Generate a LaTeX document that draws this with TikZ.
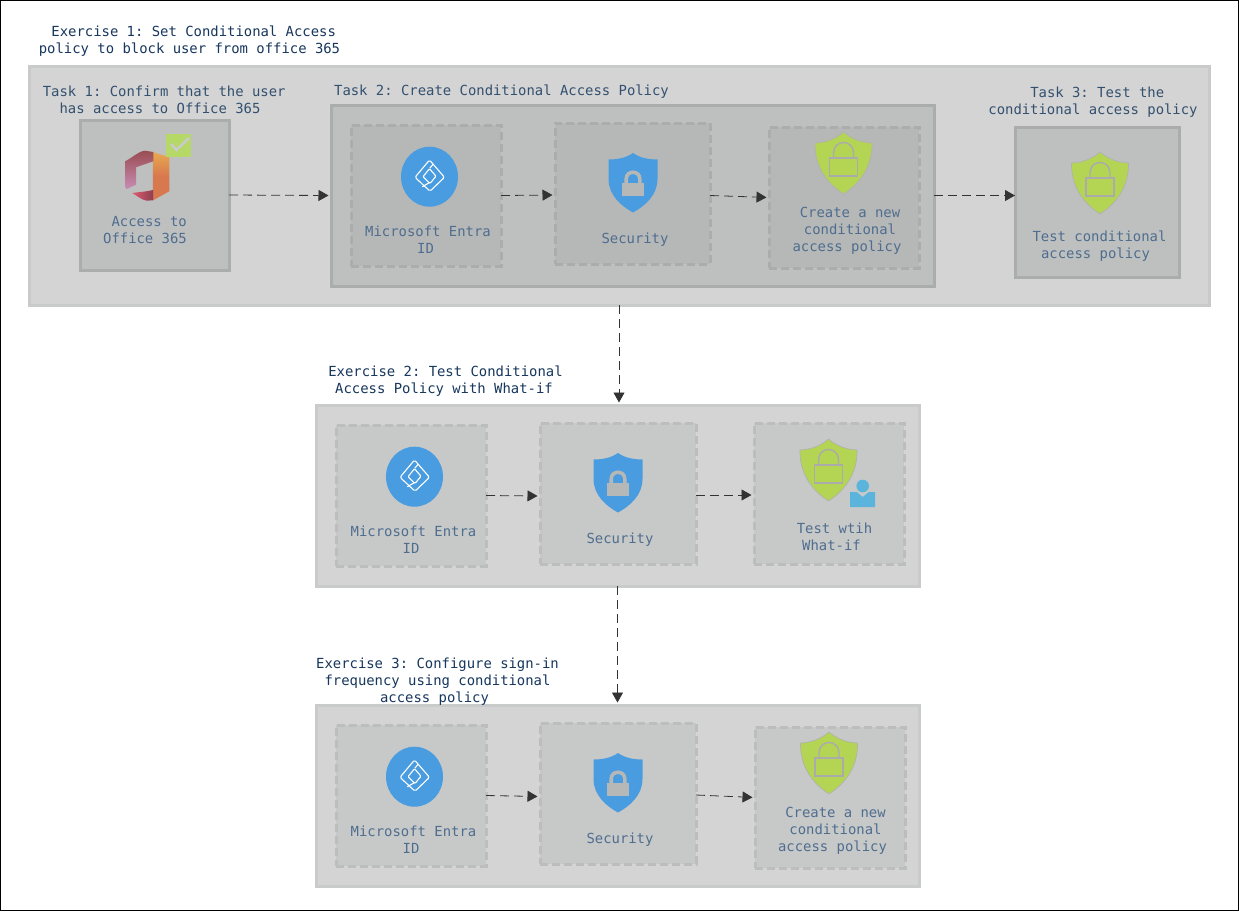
\documentclass[tikz,border=0pt]{standalone}
\usepackage{fontspec}
\setmonofont{DejaVu Sans Mono}
\usetikzlibrary{arrows.meta}
\definecolor{titlec}{HTML}{17375E}
\definecolor{taskc}{HTML}{33506F}
\definecolor{labc}{HTML}{4F6D8F}
\definecolor{msblue}{HTML}{4A9CE0}
\definecolor{msgreen}{HTML}{B4D453}
\definecolor{persc}{HTML}{5AB4DC}
\definecolor{exedge}{HTML}{C9CBCA}
\definecolor{exfill}{HTML}{D4D4D4}
\definecolor{tedge}{HTML}{ABADAC}
\definecolor{tfill}{HTML}{BEC0BF}
\definecolor{dedge}{HTML}{ABADAC}
\definecolor{dfill}{HTML}{B6B8B7}
\definecolor{dedgel}{HTML}{BCBEBD}
\definecolor{dfilll}{HTML}{C7C9C8}
\colorlet{lockc}{dfill}
\tikzset{
  x=1pt,y=-1pt,
  txt/.style={inner sep=0pt,outer sep=0pt,align=center,font=\ttfamily\fontsize{13.9}{17}\selectfont},
  ttl/.style={txt,text=titlec},
  tsk/.style={txt,text=taskc},
  lab/.style={txt,text=labc},
  exbox/.style={draw=exedge,fill=exfill,line width=3pt,inner sep=0pt,outer sep=0pt},
  tbox/.style={draw=tedge,fill=tfill,line width=3pt,inner sep=0pt,outer sep=0pt},
  dbox/.style={draw=dedge,fill=dfill,line width=3pt,dash pattern=on 8pt off 4pt,inner sep=0pt,outer sep=0pt},
  dboxl/.style={dbox,draw=dedgel,fill=dfilll},
  flow/.style={draw=black!80,line width=0.8pt,dash pattern=on 9pt off 5pt,shorten >=2.5pt,
    -{Triangle[length=10pt,width=11pt,fill=black!80]}},
  entra/.pic={
    \fill[msblue] (0,0) ellipse [x radius=28.5,y radius=30];
    \draw[white,line width=1.1pt,line join=round,rounded corners=1.5pt]
      (0,-16.7) -- (-14.5,0.6) -- (0.5,14.5) -- (15,0.6) -- cycle;
    \draw[white,line width=1.1pt,line join=round,rounded corners=1pt]
      (0,-8) -- (-6.5,0) -- (0.5,6.8) -- (6.5,-0.5) -- cycle;
    \draw[white,line width=1.1pt] (0.2,-8.4) -- (3.8,-12.6);
    \draw[white,line width=1.1pt] (-0.2,6) -- (-7.2,10);
  },
  bshield/.pic={
    \fill[msblue] (0,-30) .. controls (-7,-25) and (-16,-23.5) .. (-24.5,-23.5) -- (-24.5,-4)
      .. controls (-24.5,12) and (-12,23) .. (0,29.5)
      .. controls (12,23) and (24.5,12) .. (24.5,-4) -- (24.5,-23.5)
      .. controls (16,-23.5) and (7,-25) .. (0,-30) -- cycle;
    \fill[lockc] (-11,0) rectangle (11,13);
    \draw[lockc,line width=3.6pt] (-6.8,1) -- (-6.8,-4) .. controls (-6.8,-13) and (6.8,-13) .. (6.8,-4) -- (6.8,1);
  },
  gshield/.pic={
    \draw[black!30,line width=0.7pt,fill=msgreen] (0,-31) .. controls (-8,-24) and (-18,-20.5) .. (-28.5,-20)
      .. controls (-29,0) and (-20,18) .. (0,31)
      .. controls (20,18) and (29,0) .. (28.5,-20)
      .. controls (18,-20.5) and (8,-24) .. (0,-31) -- cycle;
    \draw[black!33,line width=1.4pt] (-14,-5) rectangle (14,13);
    \draw[black!33,line width=1.4pt] (-10,-5) -- (-10,-10) .. controls (-10,-24) and (10,-24) .. (10,-10) -- (10,-5);
  },
  persn/.pic={
    \fill[persc] (0,-6) circle [radius=6.3];
    \fill[persc] (-12.5,0) -- (-6,0) -- (0,5) -- (6,0) -- (12.5,0) -- (12.5,15) -- (-12.5,15) -- cycle;
  },
}
\definecolor{offa}{HTML}{E8A94F}
\definecolor{offb}{HTML}{D8784F}
\definecolor{offc}{HTML}{9A4D52}
\definecolor{offd}{HTML}{C25A64}
\definecolor{offe}{HTML}{C88CB4}
\definecolor{offf}{HTML}{E05A6E}
\definecolor{offg}{HTML}{8B4052}
\definecolor{chk}{HTML}{C9CBCA}
\definecolor{chkbg}{HTML}{B5D866}
\begin{document}
\begin{tikzpicture}
\useasboundingbox (0,0) rectangle (1239,911);
\draw[black,line width=1pt,fill=white] (0.5,0.5) rectangle (1238.5,910.5);

% exercise frames
\node[exbox,minimum width=1180pt,minimum height=239pt] (ex1) at (619,185.5) {};
\node[exbox,minimum width=603pt,minimum height=181pt] (ex2) at (617.5,495.5) {};
\node[exbox,minimum width=603pt,minimum height=181pt] (ex3) at (617.5,795.5) {};

% exercise 1
\node[tbox,minimum width=149pt,minimum height=150pt] (t1) at (154.5,195) {};
\node[tbox,minimum width=603pt,minimum height=181pt] (t2) at (632.5,195.5) {};
\node[tbox,minimum width=164pt,minimum height=150pt] (t3) at (1097,202) {};
\node[dbox,minimum width=150pt,minimum height=141pt] (e1) at (426,195.5) {};
\node[dbox,minimum width=155pt,minimum height=141pt] (s1) at (632.5,193.5) {};
\node[dbox,minimum width=150pt,minimum height=141pt] (c1) at (844,197.5) {};

% exercise 2
\node[dboxl,minimum width=150pt,minimum height=141pt] (e2) at (411,495.5) {};
\node[dboxl,minimum width=156pt,minimum height=141pt] (s2) at (618,493.5) {};
\node[dboxl,minimum width=150pt,minimum height=141pt] (w2) at (829,493.5) {};

% exercise 3
\node[dboxl,minimum width=150pt,minimum height=141pt] (e3) at (411,795.5) {};
\node[dboxl,minimum width=156pt,minimum height=141pt] (s3) at (618,793.5) {};
\node[dboxl,minimum width=150pt,minimum height=141pt] (c3) at (830,797.5) {};

% office icon
\shade[top color=offa,bottom color=offb,middle color=offb]
  (152.7,152) -- (169.3,157.3) -- (169.3,191.3) -- (153,200.3) -- cycle;
\shade[top color=offc,middle color=offd,bottom color=offe]
  (125,161.3) .. controls (132,158) and (139,151) .. (145,150.7) -- (153.3,152) -- (153.3,161.3) -- (136,167.3) -- (136,184.7) -- (127,189) -- (125,187) -- cycle;
\shade[left color=offf,right color=offg]
  (132.3,193) .. controls (140,192) and (147,191.5) .. (153,190) -- (153,200.3) -- (146.7,200.7) .. controls (142,200) and (137,196) .. (132.3,193) -- cycle;
\fill[chkbg] (165.5,134) rectangle (191,157);
\draw[chk,line width=2.6pt] (171,144) -- (176.5,150) -- (189,138);

\pic at (429.5,176.7) {entra};
\pic at (633,183) {bshield};
\pic at (843.5,163) {gshield};
\pic at (1100,183) {gshield};
\pic at (414.5,476.7) {entra};
\pic at (618,483) {bshield};
\pic at (828.5,470) {gshield};
\pic at (862.7,492) {persn};
\pic at (414.5,776.7) {entra};
\pic at (618,783) {bshield};
\pic at (829,763) {gshield};

% connectors
\draw[flow] (t1.east) -- (t2.west);
\draw[flow] (e1.east) -- ([yshift=-1.5pt]s1.west);
\draw[flow] ([yshift=-2pt]s1.east) -- (c1.west);
\draw[flow,shorten >=0pt] (t2.east) -- (t2.east-|t3.west);
\draw[flow] (ex1.south) -- (ex1.south|-ex2.north);
\draw[flow] (e2.east) -- ([yshift=-0.5pt]e2.east-|s2.west);
\draw[flow] ([yshift=-1.5pt]s2.east) -- ([yshift=-1.5pt]w2.west);
\draw[flow] (ex2.south) -- (ex3.north);
\draw[flow] (e3.east) -- ([yshift=-1pt]e3.east-|s3.west);
\draw[flow] ([yshift=-1.5pt]s3.east) -- (c3.west);

% titles and labels
\node[ttl] (lx1) at (189.5,41.5) {\hspace*{8.4pt}Exercise 1: Set Conditional Access\\policy to block user from office 365};
\node[tsk] (lt1) at (160,99.5) {\hspace*{8.4pt}Task 1: Confirm that the user\\has access to Office 365};
\node[tsk] (lt2) at (501.5,91.5) {Task 2: Create Conditional Access Policy};
\node[tsk] (lt3) at (1093,102.5) {\hspace*{8.4pt}Task 3: Test the\\conditional access policy};
\node[lab] (la1) at (145,230.5) {\hspace*{8.4pt}Access to\\Office 365};
\node[lab] (la2) at (428,240) {Microsoft Entra\\ID\hspace*{5pt}};
\node[lab] (la3) at (635,240) {Security};
\node[lab] (la4) at (850,231) {Create a new\\conditional\\access policy\hspace*{6pt}};
\node[lab] (la5) at (1099.5,246.5) {Test conditional\\access policy\hspace*{8pt}};

\node[ttl] (lx2) at (444,381.5) {\hspace*{3pt}Exercise 2: Test Conditional\\Access Policy with What-if};
\node[lab] (lb1) at (413.5,540) {Microsoft Entra\\ID\hspace*{5pt}};
\node[lab] (lb2) at (620,540) {Security};
\node[lab] (lb3) at (834.5,536.5) {Test wtih\\What-if\hspace*{6pt}};

\node[ttl] (lx3) at (437.5,681.5) {Exercise 3: Configure sign-in\\frequency using conditional\\access policy\hspace*{6pt}};
\node[lab] (lc1) at (413.5,840) {Microsoft Entra\\ID\hspace*{5pt}};
\node[lab] (lc2) at (620,840) {Security};
\node[lab] (lc3) at (835.5,831) {Create a new\\conditional\\access policy\hspace*{6pt}};
\end{tikzpicture}
\end{document}
